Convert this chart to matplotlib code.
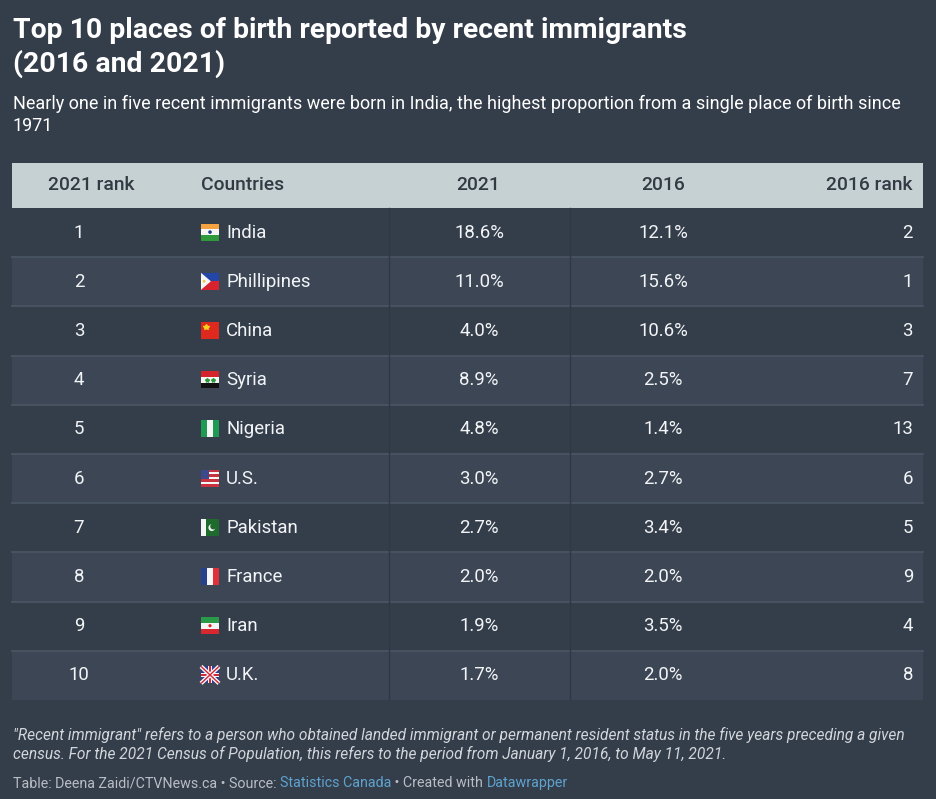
import matplotlib
matplotlib.use("Agg")
import matplotlib.pyplot as plt
from matplotlib.patches import Rectangle, Polygon, Circle

# ---- data ----
rank_2021 = [1, 2, 3, 4, 5, 6, 7, 8, 9, 10]
countries = ["India", "Phillipines", "China", "Syria", "Nigeria", "U.S.",
             "Pakistan", "France", "Iran", "U.K."]
flag_codes = ["IN", "PH", "CN", "SY", "NG", "US", "PK", "FR", "IR", "GB"]
share_2021 = [18.6, 11.0, 4.0, 8.9, 4.8, 3.0, 2.7, 2.0, 1.9, 1.7]
share_2016 = [12.1, 15.6, 10.6, 2.5, 1.4, 2.7, 3.4, 2.0, 3.5, 2.0]
rank_2016 = [2, 1, 3, 7, 13, 6, 5, 9, 4, 8]
headers = ["2021 rank", "Countries", "2021", "2016", "2016 rank"]

title_lines = ["Top 10 places of birth reported by recent immigrants", "(2016 and 2021)"]
subtitle_lines = ["Nearly one in five recent immigrants were born in India, the highest proportion from a single place of birth since",
                  "1971"]
note_lines = ['"Recent immigrant" refers to a person who obtained landed immigrant or permanent resident status in the five years preceding a given',
              'census. For the 2021 Census of Population, this refers to the period from January 1, 2016, to May 11, 2021.']

# ---- style ----
W, H = 936, 799
BG = "#343d4a"
ROW_A = "#343e4b"
ROW_B = "#3c4655"
SEP = "#4a5563"
VSEP = "#2f3844"
HEAD_BG = "#c6d1d4"
HEAD_FG = "#333a42"
TXT = "#f2f4f6"
FONT = "Roboto"

fig = plt.figure(figsize=(W / 100, H / 100), dpi=100)
fig.patch.set_facecolor(BG)
ax = fig.add_axes([0, 0, 1, 1])
ax.set_xlim(0, W)
ax.set_ylim(H, 0)
ax.axis("off")
ax.set_facecolor(BG)

def px(s):
    return s * 0.72

# title, subtitle
ax.text(13, 31, title_lines[0], fontsize=px(28.4), fontweight="bold",
        color="white", family=FONT, va="center", ha="left")
ax.text(13, 64, title_lines[1], fontsize=px(28.4), fontweight="bold",
        color="white", family=FONT, va="center", ha="left")
ax.text(13, 104, subtitle_lines[0], fontsize=px(17.95), color="white", family=FONT, va="center", ha="left")
ax.text(13, 126, subtitle_lines[1], fontsize=px(17.95), color="white", family=FONT, va="center", ha="left")

# table geometry
x0, x1 = 12, 923
head_top, head_bot = 163, 208
row_h = 49.2
n = len(countries)

ax.add_patch(Rectangle((x0, head_top), x1 - x0, head_bot - head_top, facecolor=HEAD_BG, edgecolor="none"))
hy = (head_top + head_bot) / 2
hfs = px(19.3)
hw = "medium"
ax.text(91, hy, headers[0], ha="center", va="center", fontsize=hfs, color=HEAD_FG, family=FONT, fontweight=hw)
ax.text(201, hy, headers[1], ha="left", va="center", fontsize=hfs, color=HEAD_FG, family=FONT, fontweight=hw)
ax.text(478, hy, headers[2], ha="center", va="center", fontsize=hfs, color=HEAD_FG, family=FONT, fontweight=hw)
ax.text(663, hy, headers[3], ha="center", va="center", fontsize=hfs, color=HEAD_FG, family=FONT, fontweight=hw)
ax.text(913, hy, headers[4], ha="right", va="center", fontsize=hfs, color=HEAD_FG, family=FONT, fontweight=hw)


def draw_flag(code, fx, fy, w=18, h=17):
    # fx, fy = top-left corner in pixel coords
    def R(x, y, ww, hh, c):
        ax.add_patch(Rectangle((fx + x * w, fy + y * h), ww * w, hh * h, facecolor=c, edgecolor="none", zorder=5))
    if code == "IN":
        R(0, 0, 1, 1 / 3, "#f4a340"); R(0, 1 / 3, 1, 1 / 3, "#f5f5f5"); R(0, 2 / 3, 1, 1 / 3, "#2f9a3b")
        ax.add_patch(Circle((fx + w / 2, fy + h / 2), 1.8, facecolor="#1f3a8a", edgecolor="none", zorder=6))
    elif code == "PH":
        R(0, 0, 1, 0.5, "#2346a8"); R(0, 0.5, 1, 0.5, "#d8232f")
        ax.add_patch(Polygon([(fx, fy), (fx + w * 0.55, fy + h / 2), (fx, fy + h)], closed=True,
                             facecolor="#f5f5f5", edgecolor="none", zorder=6))
        ax.add_patch(Circle((fx + w * 0.17, fy + h / 2), 1.4, facecolor="#f2c83b", edgecolor="none", zorder=7))
    elif code == "CN":
        R(0, 0, 1, 1, "#de2a1e")
        ax.plot([fx + w * 0.25], [fy + h * 0.3], marker="*", color="#f7d21b", markersize=4, zorder=7)
    elif code == "SY":
        R(0, 0, 1, 1 / 3, "#d3252b"); R(0, 1 / 3, 1, 1 / 3, "#f5f5f5"); R(0, 2 / 3, 1, 1 / 3, "#111111")
        for sx in (0.35, 0.65):
            ax.plot([fx + w * sx], [fy + h / 2], marker="*", color="#2a9a3a", markersize=3, zorder=7)
    elif code == "NG":
        R(0, 0, 1 / 3, 1, "#1f9a52"); R(1 / 3, 0, 1 / 3, 1, "#f5f5f5"); R(2 / 3, 0, 1 / 3, 1, "#1f9a52")
    elif code == "US":
        for i in range(7):
            R(0, i / 7, 1, 1 / 7, "#c8313e" if i % 2 == 0 else "#f5f5f5")
        R(0, 0, 0.45, 4 / 7, "#3c4a8c")
    elif code == "PK":
        R(0, 0, 0.25, 1, "#f5f5f5"); R(0.25, 0, 0.75, 1, "#1f6b2d")
        ax.add_patch(Circle((fx + w * 0.6, fy + h * 0.52), 3.4, facecolor="#f5f5f5", edgecolor="none", zorder=6))
        ax.add_patch(Circle((fx + w * 0.68, fy + h * 0.45), 3.0, facecolor="#1f6b2d", edgecolor="none", zorder=7))
    elif code == "FR":
        R(0, 0, 1 / 3, 1, "#25408f"); R(1 / 3, 0, 1 / 3, 1, "#f5f5f5"); R(2 / 3, 0, 1 / 3, 1, "#e0313a")
    elif code == "IR":
        R(0, 0, 1, 1 / 3, "#2a9a48"); R(0, 1 / 3, 1, 1 / 3, "#f5f5f5"); R(0, 2 / 3, 1, 1 / 3, "#d8282f")
        ax.add_patch(Circle((fx + w / 2, fy + h / 2), 1.6, facecolor="#d8282f", edgecolor="none", zorder=6))
    elif code == "GB":
        R(0, 0, 1, 1, "#2b3f8f")
        ax.plot([fx, fx + w], [fy, fy + h], color="#f5f5f5", lw=3, zorder=6, solid_capstyle="butt")
        ax.plot([fx, fx + w], [fy + h, fy], color="#f5f5f5", lw=3, zorder=6, solid_capstyle="butt")
        ax.plot([fx, fx + w], [fy, fy + h], color="#d1283a", lw=1, zorder=6, solid_capstyle="butt")
        ax.plot([fx, fx + w], [fy + h, fy], color="#d1283a", lw=1, zorder=6, solid_capstyle="butt")
        R(0.38, 0, 0.24, 1, "#f5f5f5"); R(0, 0.36, 1, 0.28, "#f5f5f5")
        R(0.44, 0, 0.12, 1, "#d1283a"); R(0, 0.42, 1, 0.16, "#d1283a")


fs = px(18.6)
for i in range(n):
    top = head_bot + i * row_h
    cy = top + row_h / 2
    ax.add_patch(Rectangle((x0, top), x1 - x0, row_h, facecolor=(ROW_A if i % 2 == 0 else ROW_B),
                           edgecolor="none", zorder=1))
    if i > 0:
        ax.plot([x0, x1], [top, top], color=SEP, lw=1.3, zorder=2)
    ax.text(79, cy, str(rank_2021[i]), ha="center", va="center", fontsize=fs, color=TXT, family=FONT)
    draw_flag(flag_codes[i], 201, cy - 9)
    ax.text(226, cy, countries[i], ha="left", va="center", fontsize=fs, color=TXT, family=FONT)
    ax.text(479, cy, f"{share_2021[i]:.1f}%", ha="center", va="center", fontsize=fs, color=TXT, family=FONT)
    ax.text(663, cy, f"{share_2016[i]:.1f}%", ha="center", va="center", fontsize=fs, color=TXT, family=FONT)
    ax.text(913, cy, str(rank_2016[i]), ha="right", va="center", fontsize=fs, color=TXT, family=FONT)

tab_bot = head_bot + n * row_h
for vx in (389, 570):
    ax.plot([vx, vx], [head_bot, tab_bot], color=VSEP, lw=1.0, zorder=3)

# notes
ax.text(13, 735, note_lines[0], ha="left", va="center", fontsize=px(15.55), color="#d2d6db",
        family=FONT, style="italic")
ax.text(13, 754, note_lines[1], ha="left", va="center", fontsize=px(15.55), color="#d2d6db",
        family=FONT, style="italic")

# footer with colored links
foot_parts = [("Table: Deena Zaidi/CTVNews.ca • Source: ", "#b9bec5"),
              ("Statistics Canada", "#5fa3cf"),
              (" • Created with ", "#b9bec5"),
              ("Datawrapper", "#5fa3cf")]
fig.canvas.draw()
renderer = fig.canvas.get_renderer()
xcur = 13
for txt, col in foot_parts:
    t = ax.text(xcur, 783, txt, ha="left", va="center", fontsize=px(14.3), color=col, family=FONT)
    bb = t.get_window_extent(renderer=renderer)
    xcur += bb.width

fig.savefig("out.png", dpi=100, facecolor=BG)
